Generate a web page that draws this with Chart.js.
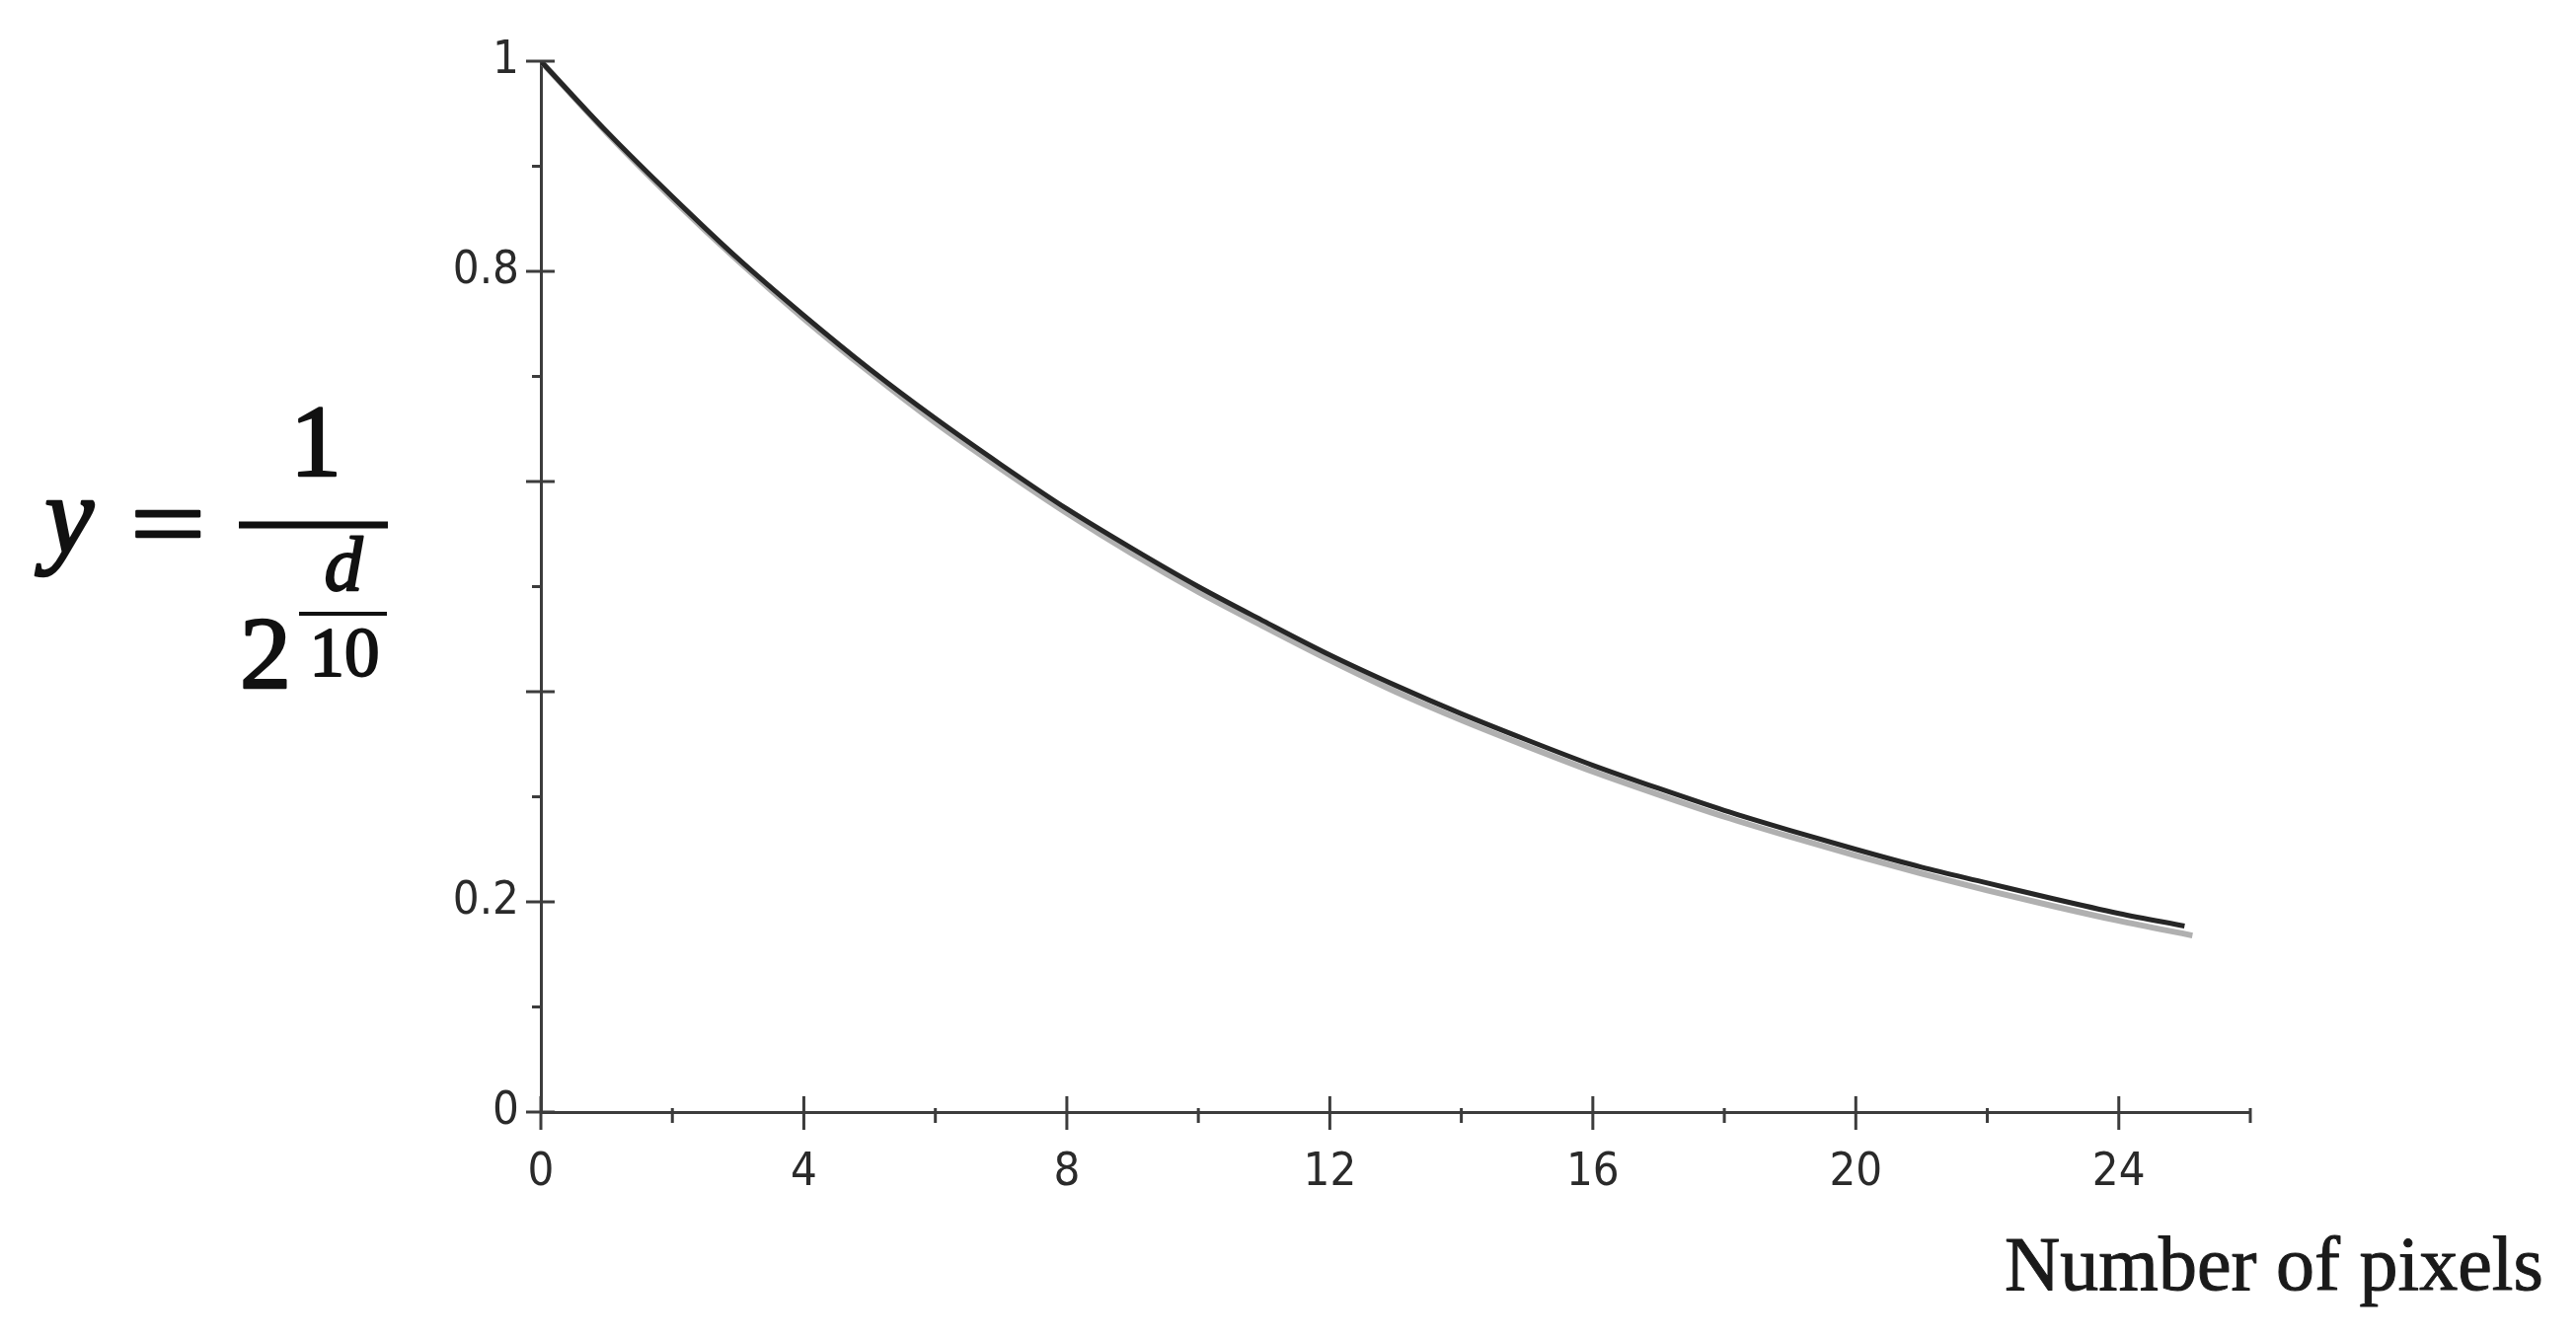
<!DOCTYPE html>
<html>
<head>
<meta charset="utf-8">
<script src="https://cdn.jsdelivr.net/npm/chart.js@4"></script>
<style>
  html, body { margin: 0; padding: 0; background: #fff; }
  #wrap { width: 2610px; height: 1356px; }
</style>
</head>
<body>
<div id="wrap"><canvas id="decayChart" width="2610" height="1356"></canvas></div>
<script>
// distance d (pixels) and the read-off weight y
const distance = [0, 1, 2, 3, 4, 5, 6, 7, 8, 9, 10, 11, 12, 13, 14, 15, 16, 17, 18, 19, 20, 21, 22, 23, 24, 25];
const weight = [1.000, 0.933, 0.871, 0.812, 0.758, 0.707, 0.660, 0.616, 0.574, 0.536, 0.500, 0.467, 0.435,
  0.406, 0.379, 0.354, 0.330, 0.308, 0.287, 0.268, 0.250, 0.233, 0.218, 0.203, 0.189, 0.177];
// faint grey trace just under the dark curve
const shadowDistance = [0, 1, 2, 3, 4, 5, 6, 7, 8, 9, 10, 11, 12, 13, 14, 15, 16, 17, 18, 19, 20, 21, 22, 23, 24, 25.12];
const shadowWeight = [1.000, 0.932, 0.869, 0.810, 0.755, 0.704, 0.656, 0.612, 0.570, 0.531, 0.495, 0.462, 0.430,
  0.400, 0.373, 0.348, 0.324, 0.302, 0.281, 0.262, 0.244, 0.227, 0.211, 0.196, 0.182, 0.168];

const xLabels = [0, 4, 8, 12, 16, 20, 24];
const yLabels = [0, 0.2, 0.8, 1];

const axisColor = "#3c3c3c";
const tickFont = { family: "'Liberation Sans Narrow', 'DejaVu Sans Condensed', 'Arial Narrow', sans-serif", size: 47 };

const near = (a, b) => Math.abs(a - b) < 1e-6;

// tick marks that cross the axis line (Chart.js only draws them outward)
const crossTicks = {
  id: "crossTicks",
  afterDraw(chart) {
    const ctx = chart.ctx;
    const xs = chart.scales.x, ys = chart.scales.y;
    const y0 = ys.getPixelForValue(0), x0 = xs.getPixelForValue(0);
    ctx.save();
    ctx.strokeStyle = axisColor;
    ctx.lineWidth = 3;
    xs.ticks.forEach(t => {
      const px = xs.getPixelForValue(t.value);
      const major = Math.round(t.value) % 4 === 0 && t.value < 25;
      ctx.beginPath();
      if (major) { ctx.moveTo(px, y0 - 16); ctx.lineTo(px, y0 + 18); }
      else { ctx.moveTo(px, y0 - 4); ctx.lineTo(px, y0 + 11); }
      ctx.stroke();
    });
    ys.ticks.forEach(t => {
      const py = ys.getPixelForValue(t.value);
      const major = Math.round(t.value * 10) % 2 === 0;
      ctx.beginPath();
      if (major) { ctx.moveTo(x0 - 15, py); ctx.lineTo(x0 + 14, py); }
      else { ctx.moveTo(x0 - 9, py); ctx.lineTo(x0 + 2, py); }
      ctx.stroke();
    });
    ctx.restore();
  }
};

// formula on the left and axis caption bottom right
const annotations = {
  id: "annotations",
  afterDraw(chart) {
    const ctx = chart.ctx;
    const put = (txt, x, y) => { ctx.fillText(txt, x, y); ctx.strokeText(txt, x, y); };
    ctx.save();
    ctx.fillStyle = "#111";
    ctx.strokeStyle = "#111";
    ctx.lineJoin = "round";
    ctx.textBaseline = "alphabetic";
    ctx.textAlign = "center";

    ctx.lineWidth = 2.5;
    ctx.font = "italic 112px 'Liberation Serif', 'DejaVu Serif', serif";
    put("y", 70, 560);
    ctx.font = "104px 'Liberation Serif', 'DejaVu Serif', serif";
    ctx.save();
    ctx.translate(170, 566);
    ctx.scale(1.3, 1);
    put("=", 0, 0);
    ctx.restore();
    put("1", 320, 482);
    put("2", 269, 697);
    ctx.lineWidth = 7;
    ctx.beginPath(); ctx.moveTo(242, 532); ctx.lineTo(393, 532); ctx.stroke();

    ctx.lineWidth = 2;
    ctx.font = "italic 78px 'Liberation Serif', 'DejaVu Serif', serif";
    put("d", 348, 598);
    ctx.font = "71px 'Liberation Serif', 'DejaVu Serif', serif";
    put("10", 349, 685);
    ctx.lineWidth = 4;
    ctx.beginPath(); ctx.moveTo(303, 622); ctx.lineTo(392, 622); ctx.stroke();

    ctx.textAlign = "left";
    ctx.fillStyle = "#1a1a1a";
    ctx.strokeStyle = "#1a1a1a";
    ctx.lineWidth = 1;
    ctx.font = "78px 'Liberation Serif', 'DejaVu Serif', serif";
    put("Number of pixels", 2031, 1307);
    ctx.restore();
  }
};

const ctx = document.getElementById("decayChart").getContext("2d");
new Chart(ctx, {
  type: "line",
  data: {
    datasets: [
      {
        label: "shadow",
        data: shadowDistance.map((d, i) => ({ x: d, y: shadowWeight[i] })),
        borderColor: "rgba(150,150,150,0.75)",
        borderWidth: 6,
        pointRadius: 0,
        cubicInterpolationMode: "monotone",
        fill: false,
        order: 2
      },
      {
        label: "y = 1 / 2^(d/10)",
        data: distance.map((d, i) => ({ x: d, y: weight[i] })),
        borderColor: "#262626",
        borderWidth: 5,
        pointRadius: 0,
        cubicInterpolationMode: "monotone",
        fill: false,
        order: 1
      }
    ]
  },
  options: {
    responsive: false,
    devicePixelRatio: 1,
    animation: false,
    layout: { padding: { left: 0, top: 62, right: 330, bottom: 129 } },
    plugins: {
      legend: { display: false },
      tooltip: { enabled: false },
      title: { display: false }
    },
    scales: {
      x: {
        type: "linear",
        min: 0,
        max: 26,
        afterFit: s => { s.height = 100; },
        afterBuildTicks: s => {
          s.ticks = [];
          for (let v = 0; v <= 26; v += 2) s.ticks.push({ value: v });
        },
        ticks: {
          autoSkip: false,
          maxRotation: 0,
          padding: 34,
          color: "#2a2a2a",
          font: tickFont,
          callback: v => (xLabels.includes(v) ? String(v) : "")
        },
        grid: { display: true, drawOnChartArea: false, drawTicks: false },
        border: { display: true, color: axisColor, width: 3 }
      },
      y: {
        type: "linear",
        min: 0,
        max: 1,
        afterFit: s => { s.width = 548; },
        afterBuildTicks: s => {
          s.ticks = [];
          for (let i = 0; i <= 10; i++) s.ticks.push({ value: i / 10 });
        },
        ticks: {
          autoSkip: false,
          padding: 22,
          color: "#2a2a2a",
          font: tickFont,
          callback: v => {
            const r = Math.round(v * 10) / 10;
            return yLabels.some(l => near(l, r)) ? String(r) : "";
          }
        },
        grid: { display: true, drawOnChartArea: false, drawTicks: false },
        border: { display: true, color: axisColor, width: 3 }
      }
    }
  },
  plugins: [crossTicks, annotations]
});
</script>
</body>
</html>
